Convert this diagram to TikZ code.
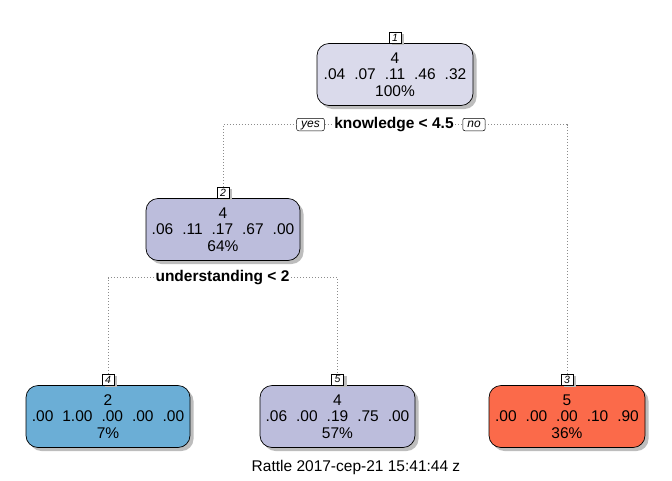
\documentclass[tikz,border=0pt]{standalone}
\usepackage{fontspec}
\setmainfont{Liberation Sans}
\usetikzlibrary{shadows}
\definecolor{cone}{HTML}{DADAEB}
\definecolor{cpurp}{HTML}{BCBDDC}
\definecolor{cblue}{HTML}{6BAED6}
\definecolor{cred}{HTML}{FB6A4A}
\definecolor{cshadow}{HTML}{BDBDBD}
\definecolor{cdot}{HTML}{8C8C8C}
\newcommand\gp{\hspace{0.58em}}
\begin{document}
\begin{tikzpicture}[x=1pt,y=-1pt,
  treenode/.style={draw=black, line width=0.7pt, rounded corners=12pt, align=center,
    font=\fontsize{15.5}{16.5}\selectfont, inner xsep=2pt, inner ysep=2pt,
    minimum height=62pt,
    drop shadow={shadow xshift=3.5pt, shadow yshift=-3.5pt, fill=cshadow, opacity=1}},
  numlab/.style={draw=black, line width=0.5pt, fill=white, font=\fontsize{10.5}{11}\itshape,
    inner sep=0.5pt, minimum width=12pt, minimum height=11pt,
    drop shadow={shadow xshift=3pt, shadow yshift=-2pt, fill=cshadow, opacity=1}},
  yesno/.style={draw=black, line width=0.5pt, fill=white, rounded corners=2pt,
    font=\fontsize{12}{13}\itshape, inner xsep=4.5pt, inner ysep=0pt,
    minimum height=12.5pt, text height=8.6pt, text depth=2.4pt},
  splitlab/.style={fill=white, font=\fontsize{15.5}{16}\bfseries, inner xsep=1.5pt, inner ysep=1pt},
  dotline/.style={draw=cdot, line width=0.8pt, dash pattern=on 0.8pt off 2.2pt}
]
\useasboundingbox (0,0) rectangle (672,480);

% nodes
\node[treenode, fill=cone, minimum width=156pt] (n1) at (395,74.5)
  {4\\.04\gp.07\gp.11\gp.46\gp.32\\100\%};
\node[treenode, fill=cpurp, minimum width=154pt] (n2) at (223,229.5)
  {4\\.06\gp.11\gp.17\gp.67\gp.00\\64\%};
\node[treenode, fill=cblue, minimum width=164pt] (n4) at (108,416.5)
  {2\\.00\gp1.00\gp.00\gp.00\gp.00\\7\%};
\node[treenode, fill=cpurp, minimum width=155pt] (n5) at (337.5,416.5)
  {4\\.06\gp.00\gp.19\gp.75\gp.00\\57\%};
\node[treenode, fill=cred, minimum width=156pt] (n3) at (567,416.5)
  {5\\.00\gp.00\gp.00\gp.10\gp.90\\36\%};

% number labels
\node[numlab, anchor=south] (l1) at (n1.north) {1};
\node[numlab, anchor=south] (l2) at (n2.north) {2};
\node[numlab, anchor=south] (l4) at (n4.north) {4};
\node[numlab, anchor=south] (l5) at (n5.north) {5};
\node[numlab, anchor=south] (l3) at (n3.north) {3};

% split 1
\node[splitlab] (k1) at (394,124.5) {knowledge < 4.5};
\node[yesno] (yes) at (310.5,124.5) {yes};
\node[yesno] (no) at (474,124.5) {no};
\draw[dotline] (l2.north) |- (yes.west);
\draw[dotline] (yes.east) -- (k1.west);
\draw[dotline] (k1.east) -- (no.west);
\draw[dotline] (no.east) -| (l3.north);

% split 2
\node[splitlab] (k2) at (222.5,277.5) {understanding < 2};
\draw[dotline] (l4.north) |- (k2.west);
\draw[dotline] (k2.east) -| (l5.north);

% footer
\node[font=\fontsize{15.5}{16}\selectfont] (foot) at (356,467.5) {Rattle 2017-cep-21 15:41:44 z};
\end{tikzpicture}
\end{document}
